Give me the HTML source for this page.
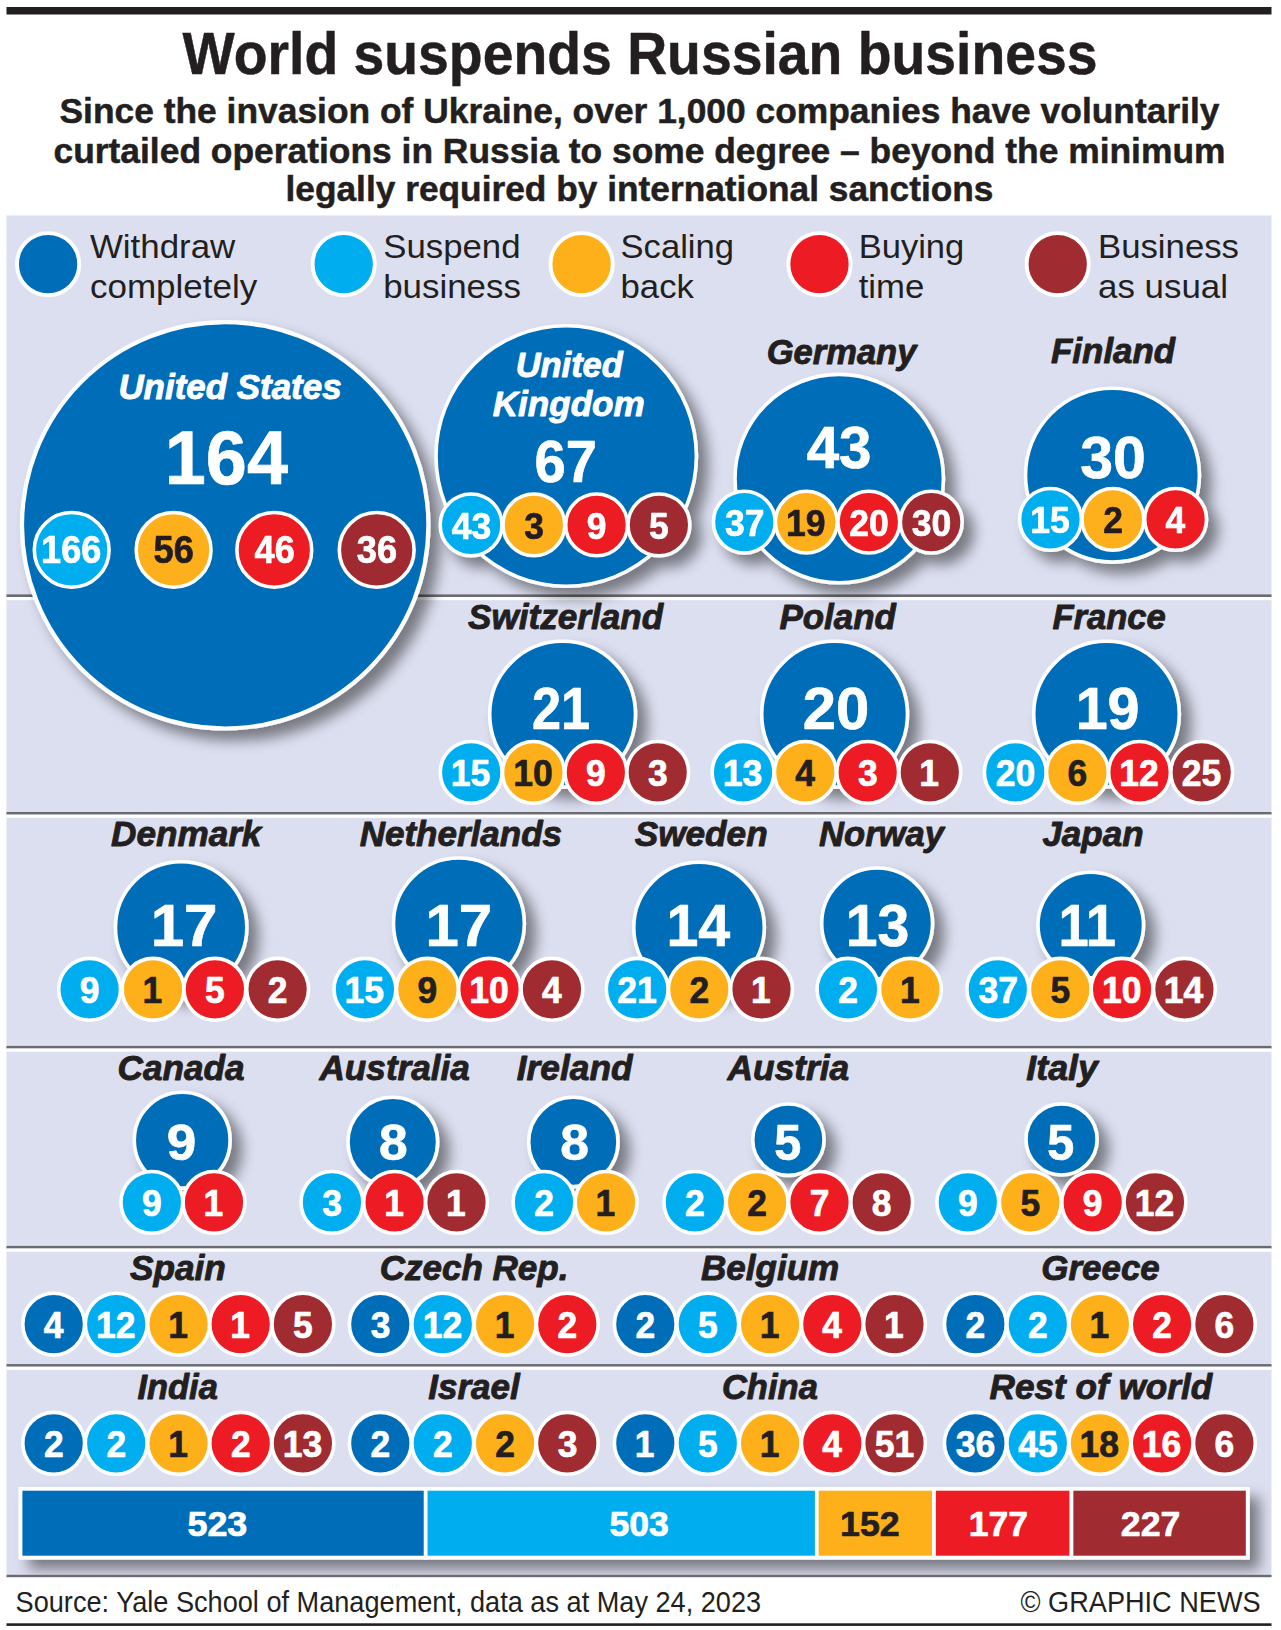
<!DOCTYPE html>
<html lang="en"><head><meta charset="utf-8"><title>World suspends Russian business</title>
<style>html,body{margin:0;padding:0;background:#fff}svg{display:block}text{font-family:"Liberation Sans",sans-serif}</style>
</head><body>
<svg width="1281" height="1630" viewBox="0 0 1281 1630">
<defs>
<filter id="shUS" filterUnits="userSpaceOnUse" x="0" y="300" width="520" height="500"><feDropShadow dx="10" dy="10" stdDeviation="7" flood-color="#000" flood-opacity="0.46"/></filter>
<filter id="shUK" filterUnits="userSpaceOnUse" x="400" y="300" width="360" height="340"><feDropShadow dx="10" dy="10" stdDeviation="7" flood-color="#000" flood-opacity="0.46"/></filter>
<filter id="sh" filterUnits="userSpaceOnUse" x="0" y="300" width="1281" height="1300"><feDropShadow dx="10" dy="10" stdDeviation="7" flood-color="#000" flood-opacity="0.46"/></filter>
</defs>
<rect width="1281" height="1630" fill="#fff"/>
<rect x="6.5" y="7" width="1265" height="7.5" fill="#231f20"/>
<rect x="6.5" y="215.5" width="1265" height="1360" fill="#dcdff0"/>
<rect x="6.5" y="1574.8" width="1265" height="2.4" fill="#6a6b70"/>
<rect x="6.5" y="1623.3" width="1265" height="2.6" fill="#231f20"/>
<text x="640" y="74.2" font-size="59.8" font-weight="bold" fill="#231f20" text-anchor="middle" stroke="#231f20" stroke-width="0.5" stroke-linejoin="round" textLength="915" lengthAdjust="spacingAndGlyphs">World suspends Russian business</text>
<text x="639.5" y="123.4" font-size="35.5" font-weight="bold" fill="#231f20" text-anchor="middle" stroke="#231f20" stroke-width="0.5" stroke-linejoin="round" textLength="1160" lengthAdjust="spacingAndGlyphs">Since the invasion of Ukraine, over 1,000 companies have voluntarily</text>
<text x="639.5" y="162.5" font-size="35.5" font-weight="bold" fill="#231f20" text-anchor="middle" stroke="#231f20" stroke-width="0.5" stroke-linejoin="round" textLength="1172" lengthAdjust="spacingAndGlyphs">curtailed operations in Russia to some degree – beyond the minimum</text>
<text x="639.5" y="201" font-size="35.5" font-weight="bold" fill="#231f20" text-anchor="middle" stroke="#231f20" stroke-width="0.5" stroke-linejoin="round" textLength="708" lengthAdjust="spacingAndGlyphs">legally required by international sanctions</text>
<circle cx="48.099999999999994" cy="264.2" r="31.1" fill="#006db8" stroke="#fff" stroke-width="3.9"/>
<text x="89.9" y="257.5" font-size="33.4" font-weight="normal" fill="#231f20" text-anchor="start" textLength="145.4" lengthAdjust="spacingAndGlyphs">Withdraw</text>
<text x="89.9" y="297.5" font-size="33.4" font-weight="normal" fill="#231f20" text-anchor="start" textLength="167.4" lengthAdjust="spacingAndGlyphs">completely</text>
<circle cx="343.7" cy="264.2" r="31.1" fill="#00aeef" stroke="#fff" stroke-width="3.9"/>
<text x="383.2" y="257.5" font-size="33.4" font-weight="normal" fill="#231f20" text-anchor="start" textLength="137.4" lengthAdjust="spacingAndGlyphs">Suspend</text>
<text x="383.2" y="297.5" font-size="33.4" font-weight="normal" fill="#231f20" text-anchor="start" textLength="137.7" lengthAdjust="spacingAndGlyphs">business</text>
<circle cx="581.5999999999999" cy="264.2" r="31.1" fill="#fdb01a" stroke="#fff" stroke-width="3.9"/>
<text x="620.5" y="257.5" font-size="33.4" font-weight="normal" fill="#231f20" text-anchor="start" textLength="113.5" lengthAdjust="spacingAndGlyphs">Scaling</text>
<text x="620.5" y="297.5" font-size="33.4" font-weight="normal" fill="#231f20" text-anchor="start" textLength="73.4" lengthAdjust="spacingAndGlyphs">back</text>
<circle cx="819.5" cy="264.2" r="31.1" fill="#ed1c24" stroke="#fff" stroke-width="3.9"/>
<text x="858.7" y="257.5" font-size="33.4" font-weight="normal" fill="#231f20" text-anchor="start" textLength="105.6" lengthAdjust="spacingAndGlyphs">Buying</text>
<text x="858.7" y="297.5" font-size="33.4" font-weight="normal" fill="#231f20" text-anchor="start" textLength="65.6" lengthAdjust="spacingAndGlyphs">time</text>
<circle cx="1057.7" cy="264.2" r="31.1" fill="#a02b31" stroke="#fff" stroke-width="3.9"/>
<text x="1098" y="257.5" font-size="33.4" font-weight="normal" fill="#231f20" text-anchor="start" textLength="141" lengthAdjust="spacingAndGlyphs">Business</text>
<text x="1098" y="297.5" font-size="33.4" font-weight="normal" fill="#231f20" text-anchor="start" textLength="130" lengthAdjust="spacingAndGlyphs">as usual</text>
<rect x="6.5" y="594.4" width="1265" height="2.6" fill="#6a6b70"/>
<rect x="6.5" y="597.0" width="1265" height="3.2" fill="#fff"/>
<rect x="6.5" y="812.0" width="1265" height="2.6" fill="#6a6b70"/>
<rect x="6.5" y="814.6" width="1265" height="3.2" fill="#fff"/>
<rect x="6.5" y="1045.9" width="1265" height="2.6" fill="#6a6b70"/>
<rect x="6.5" y="1048.5" width="1265" height="3.2" fill="#fff"/>
<rect x="6.5" y="1245.9" width="1265" height="2.6" fill="#6a6b70"/>
<rect x="6.5" y="1248.5" width="1265" height="3.2" fill="#fff"/>
<rect x="6.5" y="1364.1" width="1265" height="2.6" fill="#6a6b70"/>
<rect x="6.5" y="1366.7" width="1265" height="3.2" fill="#fff"/>
<g filter="url(#shUS)">
<circle cx="225.2" cy="525.3" r="203.2" fill="#006db8" stroke="#fff" stroke-width="4.2"/>
<circle cx="71.7" cy="549.9" r="37.4" fill="#00aeef" stroke="#fff" stroke-width="3.6"/>
<text x="71.2" y="563.1" font-size="38" font-weight="bold" fill="#fff" text-anchor="middle" stroke="#fff" stroke-width="0.7" stroke-linejoin="round" textLength="60.2" lengthAdjust="spacingAndGlyphs">166</text>
<circle cx="173.6" cy="549.9" r="37.4" fill="#fdb01a" stroke="#fff" stroke-width="3.6"/>
<text x="173.7" y="563.1" font-size="38" font-weight="bold" fill="#231f20" text-anchor="middle" stroke="#231f20" stroke-width="0.7" stroke-linejoin="round" textLength="40.2" lengthAdjust="spacingAndGlyphs">56</text>
<circle cx="274.3" cy="549.9" r="37.4" fill="#ed1c24" stroke="#fff" stroke-width="3.6"/>
<text x="274.7" y="563.1" font-size="38" font-weight="bold" fill="#fff" text-anchor="middle" stroke="#fff" stroke-width="0.7" stroke-linejoin="round" textLength="40.2" lengthAdjust="spacingAndGlyphs">46</text>
<circle cx="376.7" cy="549.9" r="37.4" fill="#a02b31" stroke="#fff" stroke-width="3.6"/>
<text x="376.9" y="563.1" font-size="38" font-weight="bold" fill="#fff" text-anchor="middle" stroke="#fff" stroke-width="0.7" stroke-linejoin="round" textLength="40.2" lengthAdjust="spacingAndGlyphs">36</text>
</g>
<text x="230" y="399.0" font-size="35.3" font-weight="bold" fill="#fff" text-anchor="middle" stroke="#fff" stroke-width="0.9" stroke-linejoin="round" font-style="italic" textLength="223.2" lengthAdjust="spacingAndGlyphs">United States</text>
<text x="226.4" y="483.5" font-size="76" font-weight="bold" fill="#fff" text-anchor="middle" stroke="#fff" stroke-width="0.7" stroke-linejoin="round" textLength="123.2" lengthAdjust="spacingAndGlyphs">164</text>
<g filter="url(#shUK)">
<circle cx="566.2" cy="456" r="130.2" fill="#006db8" stroke="#fff" stroke-width="3.6"/>
<circle cx="471.1" cy="524.9" r="30.9" fill="#00aeef" stroke="#fff" stroke-width="3.6"/>
<text x="471.5" y="538.5" font-size="36.2" font-weight="bold" fill="#fff" text-anchor="middle" stroke="#fff" stroke-width="0.7" stroke-linejoin="round" textLength="39.5" lengthAdjust="spacingAndGlyphs">43</text>
<circle cx="533.85" cy="524.9" r="30.9" fill="#fdb01a" stroke="#fff" stroke-width="3.6"/>
<text x="534.1" y="538.5" font-size="36.2" font-weight="bold" fill="#231f20" text-anchor="middle" stroke="#231f20" stroke-width="0.7" stroke-linejoin="round" textLength="19.7" lengthAdjust="spacingAndGlyphs">3</text>
<circle cx="596.6" cy="524.9" r="30.9" fill="#ed1c24" stroke="#fff" stroke-width="3.6"/>
<text x="596.6" y="538.5" font-size="36.2" font-weight="bold" fill="#fff" text-anchor="middle" stroke="#fff" stroke-width="0.7" stroke-linejoin="round" textLength="19.7" lengthAdjust="spacingAndGlyphs">9</text>
<circle cx="658.9" cy="524.9" r="30.9" fill="#a02b31" stroke="#fff" stroke-width="3.6"/>
<text x="658.9" y="538.5" font-size="36.2" font-weight="bold" fill="#fff" text-anchor="middle" stroke="#fff" stroke-width="0.7" stroke-linejoin="round" textLength="19.7" lengthAdjust="spacingAndGlyphs">5</text>
</g>
<text x="569.25" y="377.0" font-size="34.9" font-weight="bold" fill="#fff" text-anchor="middle" stroke="#fff" stroke-width="0.9" stroke-linejoin="round" font-style="italic" textLength="107.1" lengthAdjust="spacingAndGlyphs">United</text>
<text x="568.75" y="416.40000000000003" font-size="34.9" font-weight="bold" fill="#fff" text-anchor="middle" stroke="#fff" stroke-width="0.9" stroke-linejoin="round" font-style="italic" textLength="151.9" lengthAdjust="spacingAndGlyphs">Kingdom</text>
<text x="565.7" y="482.4" font-size="60" font-weight="bold" fill="#fff" text-anchor="middle" stroke="#fff" stroke-width="0.7" stroke-linejoin="round" textLength="62.4" lengthAdjust="spacingAndGlyphs">67</text>
<g filter="url(#sh)">
<circle cx="839.2" cy="478.6" r="104.2" fill="#006db8" stroke="#fff" stroke-width="3.6"/>
<circle cx="744.3" cy="522.1" r="30.9" fill="#00aeef" stroke="#fff" stroke-width="3.6"/>
<text x="744.7" y="535.7" font-size="36.2" font-weight="bold" fill="#fff" text-anchor="middle" stroke="#fff" stroke-width="0.7" stroke-linejoin="round" textLength="39.5" lengthAdjust="spacingAndGlyphs">37</text>
<circle cx="806.3" cy="522.1" r="30.9" fill="#fdb01a" stroke="#fff" stroke-width="3.6"/>
<text x="805.8" y="535.7" font-size="36.2" font-weight="bold" fill="#231f20" text-anchor="middle" stroke="#231f20" stroke-width="0.7" stroke-linejoin="round" textLength="39.5" lengthAdjust="spacingAndGlyphs">19</text>
<circle cx="868.85" cy="522.1" r="30.9" fill="#ed1c24" stroke="#fff" stroke-width="3.6"/>
<text x="869.0" y="535.7" font-size="36.2" font-weight="bold" fill="#fff" text-anchor="middle" stroke="#fff" stroke-width="0.7" stroke-linejoin="round" textLength="39.5" lengthAdjust="spacingAndGlyphs">20</text>
<circle cx="931.25" cy="522.1" r="30.9" fill="#a02b31" stroke="#fff" stroke-width="3.6"/>
<text x="931.6" y="535.7" font-size="36.2" font-weight="bold" fill="#fff" text-anchor="middle" stroke="#fff" stroke-width="0.7" stroke-linejoin="round" textLength="39.5" lengthAdjust="spacingAndGlyphs">30</text>
<circle cx="1112.45" cy="475.15" r="86.95" fill="#006db8" stroke="#fff" stroke-width="3.6"/>
<circle cx="1050.5" cy="519.4" r="30.9" fill="#00aeef" stroke="#fff" stroke-width="3.6"/>
<text x="1049.9" y="533.0" font-size="36.2" font-weight="bold" fill="#fff" text-anchor="middle" stroke="#fff" stroke-width="0.7" stroke-linejoin="round" textLength="39.5" lengthAdjust="spacingAndGlyphs">15</text>
<circle cx="1112.9" cy="519.4" r="30.9" fill="#fdb01a" stroke="#fff" stroke-width="3.6"/>
<text x="1113.0" y="533.0" font-size="36.2" font-weight="bold" fill="#231f20" text-anchor="middle" stroke="#231f20" stroke-width="0.7" stroke-linejoin="round" textLength="19.7" lengthAdjust="spacingAndGlyphs">2</text>
<circle cx="1175.6" cy="519.4" r="30.9" fill="#ed1c24" stroke="#fff" stroke-width="3.6"/>
<text x="1175.4" y="533.0" font-size="36.2" font-weight="bold" fill="#fff" text-anchor="middle" stroke="#fff" stroke-width="0.7" stroke-linejoin="round" textLength="19.7" lengthAdjust="spacingAndGlyphs">4</text>
</g>
<text x="841.55" y="363.6" font-size="34.9" font-weight="bold" fill="#231f20" text-anchor="middle" stroke="#231f20" stroke-width="0.9" stroke-linejoin="round" font-style="italic" textLength="149.7" lengthAdjust="spacingAndGlyphs">Germany</text>
<text x="839.1" y="467.7" font-size="60" font-weight="bold" fill="#fff" text-anchor="middle" stroke="#fff" stroke-width="0.7" stroke-linejoin="round" textLength="64.9" lengthAdjust="spacingAndGlyphs">43</text>
<text x="1113.1" y="363.40000000000003" font-size="34.9" font-weight="bold" fill="#231f20" text-anchor="middle" stroke="#231f20" stroke-width="0.9" stroke-linejoin="round" font-style="italic" textLength="124.2" lengthAdjust="spacingAndGlyphs">Finland</text>
<text x="1113.1" y="478.2" font-size="60" font-weight="bold" fill="#fff" text-anchor="middle" stroke="#fff" stroke-width="0.7" stroke-linejoin="round" textLength="65.6" lengthAdjust="spacingAndGlyphs">30</text>
<g filter="url(#sh)">
<circle cx="562.6" cy="714.2" r="72.9" fill="#006db8" stroke="#fff" stroke-width="3.6"/>
<circle cx="834.6" cy="714.2" r="72.9" fill="#006db8" stroke="#fff" stroke-width="3.6"/>
<circle cx="1106.5" cy="714.1" r="72.8" fill="#006db8" stroke="#fff" stroke-width="3.6"/>
</g>
<text x="565.6" y="628.5" font-size="34.9" font-weight="bold" fill="#231f20" text-anchor="middle" stroke="#231f20" stroke-width="0.9" stroke-linejoin="round" font-style="italic" textLength="195.1" lengthAdjust="spacingAndGlyphs">Switzerland</text>
<text x="561.0" y="729.4" font-size="60" font-weight="bold" fill="#fff" text-anchor="middle" stroke="#fff" stroke-width="0.7" stroke-linejoin="round" textLength="58.2" lengthAdjust="spacingAndGlyphs">21</text>
<circle cx="471.2" cy="772.4" r="30.9" fill="#00aeef" stroke="#fff" stroke-width="3.6"/>
<text x="470.6" y="786.0" font-size="36.2" font-weight="bold" fill="#fff" text-anchor="middle" stroke="#fff" stroke-width="0.7" stroke-linejoin="round" textLength="39.5" lengthAdjust="spacingAndGlyphs">15</text>
<circle cx="533.4" cy="772.4" r="30.9" fill="#fdb01a" stroke="#fff" stroke-width="3.6"/>
<text x="533.0" y="786.0" font-size="36.2" font-weight="bold" fill="#231f20" text-anchor="middle" stroke="#231f20" stroke-width="0.7" stroke-linejoin="round" textLength="39.5" lengthAdjust="spacingAndGlyphs">10</text>
<circle cx="595.85" cy="772.4" r="30.9" fill="#ed1c24" stroke="#fff" stroke-width="3.6"/>
<text x="595.9" y="786.0" font-size="36.2" font-weight="bold" fill="#fff" text-anchor="middle" stroke="#fff" stroke-width="0.7" stroke-linejoin="round" textLength="19.7" lengthAdjust="spacingAndGlyphs">9</text>
<circle cx="657.7" cy="772.4" r="30.9" fill="#a02b31" stroke="#fff" stroke-width="3.6"/>
<text x="657.9" y="786.0" font-size="36.2" font-weight="bold" fill="#fff" text-anchor="middle" stroke="#fff" stroke-width="0.7" stroke-linejoin="round" textLength="19.7" lengthAdjust="spacingAndGlyphs">3</text>
<text x="837.7" y="628.5" font-size="34.9" font-weight="bold" fill="#231f20" text-anchor="middle" stroke="#231f20" stroke-width="0.9" stroke-linejoin="round" font-style="italic" textLength="116.5" lengthAdjust="spacingAndGlyphs">Poland</text>
<text x="836.1" y="729.4" font-size="60" font-weight="bold" fill="#fff" text-anchor="middle" stroke="#fff" stroke-width="0.7" stroke-linejoin="round" textLength="66.5" lengthAdjust="spacingAndGlyphs">20</text>
<circle cx="743.05" cy="772.4" r="30.9" fill="#00aeef" stroke="#fff" stroke-width="3.6"/>
<text x="742.6" y="786.0" font-size="36.2" font-weight="bold" fill="#fff" text-anchor="middle" stroke="#fff" stroke-width="0.7" stroke-linejoin="round" textLength="39.5" lengthAdjust="spacingAndGlyphs">13</text>
<circle cx="805.3" cy="772.4" r="30.9" fill="#fdb01a" stroke="#fff" stroke-width="3.6"/>
<text x="805.1" y="786.0" font-size="36.2" font-weight="bold" fill="#231f20" text-anchor="middle" stroke="#231f20" stroke-width="0.7" stroke-linejoin="round" textLength="19.7" lengthAdjust="spacingAndGlyphs">4</text>
<circle cx="867.7" cy="772.4" r="30.9" fill="#ed1c24" stroke="#fff" stroke-width="3.6"/>
<text x="867.9" y="786.0" font-size="36.2" font-weight="bold" fill="#fff" text-anchor="middle" stroke="#fff" stroke-width="0.7" stroke-linejoin="round" textLength="19.7" lengthAdjust="spacingAndGlyphs">3</text>
<circle cx="929.8" cy="772.4" r="30.9" fill="#a02b31" stroke="#fff" stroke-width="3.6"/>
<text x="929.2" y="786.0" font-size="36.2" font-weight="bold" fill="#fff" text-anchor="middle" stroke="#fff" stroke-width="0.7" stroke-linejoin="round" textLength="19.7" lengthAdjust="spacingAndGlyphs">1</text>
<text x="1109.1" y="628.5" font-size="34.9" font-weight="bold" fill="#231f20" text-anchor="middle" stroke="#231f20" stroke-width="0.9" stroke-linejoin="round" font-style="italic" textLength="113.4" lengthAdjust="spacingAndGlyphs">France</text>
<text x="1107.6" y="729.4" font-size="60" font-weight="bold" fill="#fff" text-anchor="middle" stroke="#fff" stroke-width="0.7" stroke-linejoin="round" textLength="63.9" lengthAdjust="spacingAndGlyphs">19</text>
<circle cx="1015.3" cy="772.4" r="30.9" fill="#00aeef" stroke="#fff" stroke-width="3.6"/>
<text x="1015.4" y="786.0" font-size="36.2" font-weight="bold" fill="#fff" text-anchor="middle" stroke="#fff" stroke-width="0.7" stroke-linejoin="round" textLength="39.5" lengthAdjust="spacingAndGlyphs">20</text>
<circle cx="1077.4" cy="772.4" r="30.9" fill="#fdb01a" stroke="#fff" stroke-width="3.6"/>
<text x="1077.4" y="786.0" font-size="36.2" font-weight="bold" fill="#231f20" text-anchor="middle" stroke="#231f20" stroke-width="0.7" stroke-linejoin="round" textLength="19.7" lengthAdjust="spacingAndGlyphs">6</text>
<circle cx="1139.5" cy="772.4" r="30.9" fill="#ed1c24" stroke="#fff" stroke-width="3.6"/>
<text x="1139.1" y="786.0" font-size="36.2" font-weight="bold" fill="#fff" text-anchor="middle" stroke="#fff" stroke-width="0.7" stroke-linejoin="round" textLength="39.5" lengthAdjust="spacingAndGlyphs">12</text>
<circle cx="1201.7" cy="772.4" r="30.9" fill="#a02b31" stroke="#fff" stroke-width="3.6"/>
<text x="1201.6" y="786.0" font-size="36.2" font-weight="bold" fill="#fff" text-anchor="middle" stroke="#fff" stroke-width="0.7" stroke-linejoin="round" textLength="39.5" lengthAdjust="spacingAndGlyphs">25</text>
<g filter="url(#sh)">
<circle cx="181.15" cy="927.45" r="65.65" fill="#006db8" stroke="#fff" stroke-width="3.6"/>
<circle cx="458.9" cy="923.4" r="65.4" fill="#006db8" stroke="#fff" stroke-width="3.6"/>
<circle cx="699.05" cy="927.55" r="65.25" fill="#006db8" stroke="#fff" stroke-width="3.6"/>
<circle cx="877.1" cy="923.4" r="55.4" fill="#006db8" stroke="#fff" stroke-width="3.6"/>
<circle cx="1090.75" cy="925.05" r="52.75" fill="#006db8" stroke="#fff" stroke-width="3.6"/>
</g>
<text x="186.2" y="845.8" font-size="34.9" font-weight="bold" fill="#231f20" text-anchor="middle" stroke="#231f20" stroke-width="0.9" stroke-linejoin="round" font-style="italic" textLength="150.4" lengthAdjust="spacingAndGlyphs">Denmark</text>
<text x="184.1" y="945.9" font-size="59.8" font-weight="bold" fill="#fff" text-anchor="middle" stroke="#fff" stroke-width="0.7" stroke-linejoin="round" textLength="66.9" lengthAdjust="spacingAndGlyphs">17</text>
<circle cx="89.6" cy="989.3" r="30.9" fill="#00aeef" stroke="#fff" stroke-width="3.6"/>
<text x="89.6" y="1002.9" font-size="36.2" font-weight="bold" fill="#fff" text-anchor="middle" stroke="#fff" stroke-width="0.7" stroke-linejoin="round" textLength="19.7" lengthAdjust="spacingAndGlyphs">9</text>
<circle cx="153.05" cy="989.3" r="30.9" fill="#fdb01a" stroke="#fff" stroke-width="3.6"/>
<text x="152.4" y="1002.9" font-size="36.2" font-weight="bold" fill="#231f20" text-anchor="middle" stroke="#231f20" stroke-width="0.7" stroke-linejoin="round" textLength="19.7" lengthAdjust="spacingAndGlyphs">1</text>
<circle cx="214.9" cy="989.3" r="30.9" fill="#ed1c24" stroke="#fff" stroke-width="3.6"/>
<text x="214.9" y="1002.9" font-size="36.2" font-weight="bold" fill="#fff" text-anchor="middle" stroke="#fff" stroke-width="0.7" stroke-linejoin="round" textLength="19.7" lengthAdjust="spacingAndGlyphs">5</text>
<circle cx="277.6" cy="989.3" r="30.9" fill="#a02b31" stroke="#fff" stroke-width="3.6"/>
<text x="277.7" y="1002.9" font-size="36.2" font-weight="bold" fill="#fff" text-anchor="middle" stroke="#fff" stroke-width="0.7" stroke-linejoin="round" textLength="19.7" lengthAdjust="spacingAndGlyphs">2</text>
<text x="460.9" y="845.8" font-size="34.9" font-weight="bold" fill="#231f20" text-anchor="middle" stroke="#231f20" stroke-width="0.9" stroke-linejoin="round" font-style="italic" textLength="202.4" lengthAdjust="spacingAndGlyphs">Netherlands</text>
<text x="458.7" y="945.9" font-size="59.8" font-weight="bold" fill="#fff" text-anchor="middle" stroke="#fff" stroke-width="0.7" stroke-linejoin="round" textLength="66.6" lengthAdjust="spacingAndGlyphs">17</text>
<circle cx="364.95" cy="989.3" r="30.9" fill="#00aeef" stroke="#fff" stroke-width="3.6"/>
<text x="364.3" y="1002.9" font-size="36.2" font-weight="bold" fill="#fff" text-anchor="middle" stroke="#fff" stroke-width="0.7" stroke-linejoin="round" textLength="39.5" lengthAdjust="spacingAndGlyphs">15</text>
<circle cx="427.4" cy="989.3" r="30.9" fill="#fdb01a" stroke="#fff" stroke-width="3.6"/>
<text x="427.4" y="1002.9" font-size="36.2" font-weight="bold" fill="#231f20" text-anchor="middle" stroke="#231f20" stroke-width="0.7" stroke-linejoin="round" textLength="19.7" lengthAdjust="spacingAndGlyphs">9</text>
<circle cx="489.5" cy="989.3" r="30.9" fill="#ed1c24" stroke="#fff" stroke-width="3.6"/>
<text x="489.1" y="1002.9" font-size="36.2" font-weight="bold" fill="#fff" text-anchor="middle" stroke="#fff" stroke-width="0.7" stroke-linejoin="round" textLength="39.5" lengthAdjust="spacingAndGlyphs">10</text>
<circle cx="551.95" cy="989.3" r="30.9" fill="#a02b31" stroke="#fff" stroke-width="3.6"/>
<text x="551.8" y="1002.9" font-size="36.2" font-weight="bold" fill="#fff" text-anchor="middle" stroke="#fff" stroke-width="0.7" stroke-linejoin="round" textLength="19.7" lengthAdjust="spacingAndGlyphs">4</text>
<text x="701.2" y="845.8" font-size="34.9" font-weight="bold" fill="#231f20" text-anchor="middle" stroke="#231f20" stroke-width="0.9" stroke-linejoin="round" font-style="italic" textLength="133" lengthAdjust="spacingAndGlyphs">Sweden</text>
<text x="698.3" y="945.9" font-size="59.8" font-weight="bold" fill="#fff" text-anchor="middle" stroke="#fff" stroke-width="0.7" stroke-linejoin="round" textLength="63.8" lengthAdjust="spacingAndGlyphs">14</text>
<circle cx="637.2" cy="989.3" r="30.9" fill="#00aeef" stroke="#fff" stroke-width="3.6"/>
<text x="637.1" y="1002.9" font-size="36.2" font-weight="bold" fill="#fff" text-anchor="middle" stroke="#fff" stroke-width="0.7" stroke-linejoin="round" textLength="39.5" lengthAdjust="spacingAndGlyphs">21</text>
<circle cx="699.3" cy="989.3" r="30.9" fill="#fdb01a" stroke="#fff" stroke-width="3.6"/>
<text x="699.4" y="1002.9" font-size="36.2" font-weight="bold" fill="#231f20" text-anchor="middle" stroke="#231f20" stroke-width="0.7" stroke-linejoin="round" textLength="19.7" lengthAdjust="spacingAndGlyphs">2</text>
<circle cx="761.5" cy="989.3" r="30.9" fill="#a02b31" stroke="#fff" stroke-width="3.6"/>
<text x="760.9" y="1002.9" font-size="36.2" font-weight="bold" fill="#fff" text-anchor="middle" stroke="#fff" stroke-width="0.7" stroke-linejoin="round" textLength="19.7" lengthAdjust="spacingAndGlyphs">1</text>
<text x="881.5" y="845.8" font-size="34.9" font-weight="bold" fill="#231f20" text-anchor="middle" stroke="#231f20" stroke-width="0.9" stroke-linejoin="round" font-style="italic" textLength="124.8" lengthAdjust="spacingAndGlyphs">Norway</text>
<text x="877.5" y="945.9" font-size="59.8" font-weight="bold" fill="#fff" text-anchor="middle" stroke="#fff" stroke-width="0.7" stroke-linejoin="round" textLength="63.6" lengthAdjust="spacingAndGlyphs">13</text>
<circle cx="847.95" cy="989.3" r="30.9" fill="#00aeef" stroke="#fff" stroke-width="3.6"/>
<text x="848.0" y="1002.9" font-size="36.2" font-weight="bold" fill="#fff" text-anchor="middle" stroke="#fff" stroke-width="0.7" stroke-linejoin="round" textLength="19.7" lengthAdjust="spacingAndGlyphs">2</text>
<circle cx="910.4" cy="989.3" r="30.9" fill="#fdb01a" stroke="#fff" stroke-width="3.6"/>
<text x="909.8" y="1002.9" font-size="36.2" font-weight="bold" fill="#231f20" text-anchor="middle" stroke="#231f20" stroke-width="0.7" stroke-linejoin="round" textLength="19.7" lengthAdjust="spacingAndGlyphs">1</text>
<text x="1093" y="845.8" font-size="34.9" font-weight="bold" fill="#231f20" text-anchor="middle" stroke="#231f20" stroke-width="0.9" stroke-linejoin="round" font-style="italic" textLength="101.2" lengthAdjust="spacingAndGlyphs">Japan</text>
<text x="1087.2" y="945.9" font-size="59.8" font-weight="bold" fill="#fff" text-anchor="middle" stroke="#fff" stroke-width="0.7" stroke-linejoin="round" textLength="57.4" lengthAdjust="spacingAndGlyphs">11</text>
<circle cx="997.8" cy="989.3" r="30.9" fill="#00aeef" stroke="#fff" stroke-width="3.6"/>
<text x="998.2" y="1002.9" font-size="36.2" font-weight="bold" fill="#fff" text-anchor="middle" stroke="#fff" stroke-width="0.7" stroke-linejoin="round" textLength="39.5" lengthAdjust="spacingAndGlyphs">37</text>
<circle cx="1060.3" cy="989.3" r="30.9" fill="#fdb01a" stroke="#fff" stroke-width="3.6"/>
<text x="1060.3" y="1002.9" font-size="36.2" font-weight="bold" fill="#231f20" text-anchor="middle" stroke="#231f20" stroke-width="0.7" stroke-linejoin="round" textLength="19.7" lengthAdjust="spacingAndGlyphs">5</text>
<circle cx="1122.1" cy="989.3" r="30.9" fill="#ed1c24" stroke="#fff" stroke-width="3.6"/>
<text x="1121.7" y="1002.9" font-size="36.2" font-weight="bold" fill="#fff" text-anchor="middle" stroke="#fff" stroke-width="0.7" stroke-linejoin="round" textLength="39.5" lengthAdjust="spacingAndGlyphs">10</text>
<circle cx="1184.4" cy="989.3" r="30.9" fill="#a02b31" stroke="#fff" stroke-width="3.6"/>
<text x="1183.4" y="1002.9" font-size="36.2" font-weight="bold" fill="#fff" text-anchor="middle" stroke="#fff" stroke-width="0.7" stroke-linejoin="round" textLength="39.5" lengthAdjust="spacingAndGlyphs">14</text>
<g filter="url(#sh)">
<circle cx="182.2" cy="1140.2" r="47.9" fill="#006db8" stroke="#fff" stroke-width="3.6"/>
<circle cx="392.8" cy="1142.1" r="44.8" fill="#006db8" stroke="#fff" stroke-width="3.6"/>
<circle cx="573.35" cy="1141.95" r="44.65" fill="#006db8" stroke="#fff" stroke-width="3.6"/>
<circle cx="788.4" cy="1139.7" r="35.65" fill="#006db8" stroke="#fff" stroke-width="3.6"/>
<circle cx="1061.55" cy="1139.4" r="35.55" fill="#006db8" stroke="#fff" stroke-width="3.6"/>
</g>
<text x="181" y="1079.6" font-size="34.9" font-weight="bold" fill="#231f20" text-anchor="middle" stroke="#231f20" stroke-width="0.9" stroke-linejoin="round" font-style="italic" textLength="127" lengthAdjust="spacingAndGlyphs">Canada</text>
<text x="181.6" y="1159.7" font-size="50.8" font-weight="bold" fill="#fff" text-anchor="middle" stroke="#fff" stroke-width="0.7" stroke-linejoin="round" textLength="29.5" lengthAdjust="spacingAndGlyphs">9</text>
<circle cx="151.85" cy="1202.4" r="30.9" fill="#00aeef" stroke="#fff" stroke-width="3.6"/>
<text x="151.9" y="1216.0" font-size="36.2" font-weight="bold" fill="#fff" text-anchor="middle" stroke="#fff" stroke-width="0.7" stroke-linejoin="round" textLength="19.7" lengthAdjust="spacingAndGlyphs">9</text>
<circle cx="214" cy="1202.4" r="30.9" fill="#ed1c24" stroke="#fff" stroke-width="3.6"/>
<text x="213.4" y="1216.0" font-size="36.2" font-weight="bold" fill="#fff" text-anchor="middle" stroke="#fff" stroke-width="0.7" stroke-linejoin="round" textLength="19.7" lengthAdjust="spacingAndGlyphs">1</text>
<text x="394.7" y="1079.6" font-size="34.9" font-weight="bold" fill="#231f20" text-anchor="middle" stroke="#231f20" stroke-width="0.9" stroke-linejoin="round" font-style="italic" textLength="150.5" lengthAdjust="spacingAndGlyphs">Australia</text>
<text x="393.4" y="1159.7" font-size="50.8" font-weight="bold" fill="#fff" text-anchor="middle" stroke="#fff" stroke-width="0.7" stroke-linejoin="round" textLength="28.7" lengthAdjust="spacingAndGlyphs">8</text>
<circle cx="331.95" cy="1202.4" r="30.9" fill="#00aeef" stroke="#fff" stroke-width="3.6"/>
<text x="332.2" y="1216.0" font-size="36.2" font-weight="bold" fill="#fff" text-anchor="middle" stroke="#fff" stroke-width="0.7" stroke-linejoin="round" textLength="19.7" lengthAdjust="spacingAndGlyphs">3</text>
<circle cx="394.6" cy="1202.4" r="30.9" fill="#ed1c24" stroke="#fff" stroke-width="3.6"/>
<text x="394.0" y="1216.0" font-size="36.2" font-weight="bold" fill="#fff" text-anchor="middle" stroke="#fff" stroke-width="0.7" stroke-linejoin="round" textLength="19.7" lengthAdjust="spacingAndGlyphs">1</text>
<circle cx="456.5" cy="1202.4" r="30.9" fill="#a02b31" stroke="#fff" stroke-width="3.6"/>
<text x="455.9" y="1216.0" font-size="36.2" font-weight="bold" fill="#fff" text-anchor="middle" stroke="#fff" stroke-width="0.7" stroke-linejoin="round" textLength="19.7" lengthAdjust="spacingAndGlyphs">1</text>
<text x="574.7" y="1079.6" font-size="34.9" font-weight="bold" fill="#231f20" text-anchor="middle" stroke="#231f20" stroke-width="0.9" stroke-linejoin="round" font-style="italic" textLength="115.9" lengthAdjust="spacingAndGlyphs">Ireland</text>
<text x="574.5" y="1159.7" font-size="50.8" font-weight="bold" fill="#fff" text-anchor="middle" stroke="#fff" stroke-width="0.7" stroke-linejoin="round" textLength="28.7" lengthAdjust="spacingAndGlyphs">8</text>
<circle cx="544" cy="1202.4" r="30.9" fill="#00aeef" stroke="#fff" stroke-width="3.6"/>
<text x="544.1" y="1216.0" font-size="36.2" font-weight="bold" fill="#fff" text-anchor="middle" stroke="#fff" stroke-width="0.7" stroke-linejoin="round" textLength="19.7" lengthAdjust="spacingAndGlyphs">2</text>
<circle cx="606.05" cy="1202.4" r="30.9" fill="#fdb01a" stroke="#fff" stroke-width="3.6"/>
<text x="605.4" y="1216.0" font-size="36.2" font-weight="bold" fill="#231f20" text-anchor="middle" stroke="#231f20" stroke-width="0.7" stroke-linejoin="round" textLength="19.7" lengthAdjust="spacingAndGlyphs">1</text>
<text x="788.4" y="1079.6" font-size="34.9" font-weight="bold" fill="#231f20" text-anchor="middle" stroke="#231f20" stroke-width="0.9" stroke-linejoin="round" font-style="italic" textLength="121.6" lengthAdjust="spacingAndGlyphs">Austria</text>
<text x="787.7" y="1159.7" font-size="50.8" font-weight="bold" fill="#fff" text-anchor="middle" stroke="#fff" stroke-width="0.7" stroke-linejoin="round" textLength="27.0" lengthAdjust="spacingAndGlyphs">5</text>
<circle cx="694.85" cy="1202.4" r="30.9" fill="#00aeef" stroke="#fff" stroke-width="3.6"/>
<text x="694.9" y="1216.0" font-size="36.2" font-weight="bold" fill="#fff" text-anchor="middle" stroke="#fff" stroke-width="0.7" stroke-linejoin="round" textLength="19.7" lengthAdjust="spacingAndGlyphs">2</text>
<circle cx="757.15" cy="1202.4" r="30.9" fill="#fdb01a" stroke="#fff" stroke-width="3.6"/>
<text x="757.2" y="1216.0" font-size="36.2" font-weight="bold" fill="#231f20" text-anchor="middle" stroke="#231f20" stroke-width="0.7" stroke-linejoin="round" textLength="19.7" lengthAdjust="spacingAndGlyphs">2</text>
<circle cx="819.5" cy="1202.4" r="30.9" fill="#ed1c24" stroke="#fff" stroke-width="3.6"/>
<text x="819.5" y="1216.0" font-size="36.2" font-weight="bold" fill="#fff" text-anchor="middle" stroke="#fff" stroke-width="0.7" stroke-linejoin="round" textLength="19.7" lengthAdjust="spacingAndGlyphs">7</text>
<circle cx="881.7" cy="1202.4" r="30.9" fill="#a02b31" stroke="#fff" stroke-width="3.6"/>
<text x="881.7" y="1216.0" font-size="36.2" font-weight="bold" fill="#fff" text-anchor="middle" stroke="#fff" stroke-width="0.7" stroke-linejoin="round" textLength="19.7" lengthAdjust="spacingAndGlyphs">8</text>
<text x="1062.1" y="1079.6" font-size="34.9" font-weight="bold" fill="#231f20" text-anchor="middle" stroke="#231f20" stroke-width="0.9" stroke-linejoin="round" font-style="italic" textLength="71.6" lengthAdjust="spacingAndGlyphs">Italy</text>
<text x="1060.7" y="1159.7" font-size="50.8" font-weight="bold" fill="#fff" text-anchor="middle" stroke="#fff" stroke-width="0.7" stroke-linejoin="round" textLength="27.0" lengthAdjust="spacingAndGlyphs">5</text>
<circle cx="967.8" cy="1202.4" r="30.9" fill="#00aeef" stroke="#fff" stroke-width="3.6"/>
<text x="967.8" y="1216.0" font-size="36.2" font-weight="bold" fill="#fff" text-anchor="middle" stroke="#fff" stroke-width="0.7" stroke-linejoin="round" textLength="19.7" lengthAdjust="spacingAndGlyphs">9</text>
<circle cx="1030.3" cy="1202.4" r="30.9" fill="#fdb01a" stroke="#fff" stroke-width="3.6"/>
<text x="1030.3" y="1216.0" font-size="36.2" font-weight="bold" fill="#231f20" text-anchor="middle" stroke="#231f20" stroke-width="0.7" stroke-linejoin="round" textLength="19.7" lengthAdjust="spacingAndGlyphs">5</text>
<circle cx="1092.7" cy="1202.4" r="30.9" fill="#ed1c24" stroke="#fff" stroke-width="3.6"/>
<text x="1092.7" y="1216.0" font-size="36.2" font-weight="bold" fill="#fff" text-anchor="middle" stroke="#fff" stroke-width="0.7" stroke-linejoin="round" textLength="19.7" lengthAdjust="spacingAndGlyphs">9</text>
<circle cx="1154.95" cy="1202.4" r="30.9" fill="#a02b31" stroke="#fff" stroke-width="3.6"/>
<text x="1154.5" y="1216.0" font-size="36.2" font-weight="bold" fill="#fff" text-anchor="middle" stroke="#fff" stroke-width="0.7" stroke-linejoin="round" textLength="39.5" lengthAdjust="spacingAndGlyphs">12</text>
<text x="177.9" y="1279.8" font-size="34.9" font-weight="bold" fill="#231f20" text-anchor="middle" stroke="#231f20" stroke-width="0.9" stroke-linejoin="round" font-style="italic" textLength="95.9" lengthAdjust="spacingAndGlyphs">Spain</text>
<circle cx="53.7" cy="1324.2" r="30.9" fill="#006db8" stroke="#fff" stroke-width="3.6"/>
<text x="53.5" y="1337.8" font-size="36.2" font-weight="bold" fill="#fff" text-anchor="middle" stroke="#fff" stroke-width="0.7" stroke-linejoin="round" textLength="19.7" lengthAdjust="spacingAndGlyphs">4</text>
<circle cx="116.2" cy="1324.2" r="30.9" fill="#00aeef" stroke="#fff" stroke-width="3.6"/>
<text x="115.8" y="1337.8" font-size="36.2" font-weight="bold" fill="#fff" text-anchor="middle" stroke="#fff" stroke-width="0.7" stroke-linejoin="round" textLength="39.5" lengthAdjust="spacingAndGlyphs">12</text>
<circle cx="178.6" cy="1324.2" r="30.9" fill="#fdb01a" stroke="#fff" stroke-width="3.6"/>
<text x="178.0" y="1337.8" font-size="36.2" font-weight="bold" fill="#231f20" text-anchor="middle" stroke="#231f20" stroke-width="0.7" stroke-linejoin="round" textLength="19.7" lengthAdjust="spacingAndGlyphs">1</text>
<circle cx="240.7" cy="1324.2" r="30.9" fill="#ed1c24" stroke="#fff" stroke-width="3.6"/>
<text x="240.1" y="1337.8" font-size="36.2" font-weight="bold" fill="#fff" text-anchor="middle" stroke="#fff" stroke-width="0.7" stroke-linejoin="round" textLength="19.7" lengthAdjust="spacingAndGlyphs">1</text>
<circle cx="302.9" cy="1324.2" r="30.9" fill="#a02b31" stroke="#fff" stroke-width="3.6"/>
<text x="302.9" y="1337.8" font-size="36.2" font-weight="bold" fill="#fff" text-anchor="middle" stroke="#fff" stroke-width="0.7" stroke-linejoin="round" textLength="19.7" lengthAdjust="spacingAndGlyphs">5</text>
<text x="474.1" y="1279.8" font-size="34.9" font-weight="bold" fill="#231f20" text-anchor="middle" stroke="#231f20" stroke-width="0.9" stroke-linejoin="round" font-style="italic" textLength="188.8" lengthAdjust="spacingAndGlyphs">Czech Rep.</text>
<circle cx="380.3" cy="1324.2" r="30.9" fill="#006db8" stroke="#fff" stroke-width="3.6"/>
<text x="380.5" y="1337.8" font-size="36.2" font-weight="bold" fill="#fff" text-anchor="middle" stroke="#fff" stroke-width="0.7" stroke-linejoin="round" textLength="19.7" lengthAdjust="spacingAndGlyphs">3</text>
<circle cx="442.8" cy="1324.2" r="30.9" fill="#00aeef" stroke="#fff" stroke-width="3.6"/>
<text x="442.4" y="1337.8" font-size="36.2" font-weight="bold" fill="#fff" text-anchor="middle" stroke="#fff" stroke-width="0.7" stroke-linejoin="round" textLength="39.5" lengthAdjust="spacingAndGlyphs">12</text>
<circle cx="505.1" cy="1324.2" r="30.9" fill="#fdb01a" stroke="#fff" stroke-width="3.6"/>
<text x="504.5" y="1337.8" font-size="36.2" font-weight="bold" fill="#231f20" text-anchor="middle" stroke="#231f20" stroke-width="0.7" stroke-linejoin="round" textLength="19.7" lengthAdjust="spacingAndGlyphs">1</text>
<circle cx="567.3" cy="1324.2" r="30.9" fill="#ed1c24" stroke="#fff" stroke-width="3.6"/>
<text x="567.4" y="1337.8" font-size="36.2" font-weight="bold" fill="#fff" text-anchor="middle" stroke="#fff" stroke-width="0.7" stroke-linejoin="round" textLength="19.7" lengthAdjust="spacingAndGlyphs">2</text>
<text x="770.1" y="1279.8" font-size="34.9" font-weight="bold" fill="#231f20" text-anchor="middle" stroke="#231f20" stroke-width="0.9" stroke-linejoin="round" font-style="italic" textLength="138.2" lengthAdjust="spacingAndGlyphs">Belgium</text>
<circle cx="645.3" cy="1324.2" r="30.9" fill="#006db8" stroke="#fff" stroke-width="3.6"/>
<text x="645.4" y="1337.8" font-size="36.2" font-weight="bold" fill="#fff" text-anchor="middle" stroke="#fff" stroke-width="0.7" stroke-linejoin="round" textLength="19.7" lengthAdjust="spacingAndGlyphs">2</text>
<circle cx="707.8" cy="1324.2" r="30.9" fill="#00aeef" stroke="#fff" stroke-width="3.6"/>
<text x="707.8" y="1337.8" font-size="36.2" font-weight="bold" fill="#fff" text-anchor="middle" stroke="#fff" stroke-width="0.7" stroke-linejoin="round" textLength="19.7" lengthAdjust="spacingAndGlyphs">5</text>
<circle cx="770.1" cy="1324.2" r="30.9" fill="#fdb01a" stroke="#fff" stroke-width="3.6"/>
<text x="769.5" y="1337.8" font-size="36.2" font-weight="bold" fill="#231f20" text-anchor="middle" stroke="#231f20" stroke-width="0.7" stroke-linejoin="round" textLength="19.7" lengthAdjust="spacingAndGlyphs">1</text>
<circle cx="832.3" cy="1324.2" r="30.9" fill="#ed1c24" stroke="#fff" stroke-width="3.6"/>
<text x="832.1" y="1337.8" font-size="36.2" font-weight="bold" fill="#fff" text-anchor="middle" stroke="#fff" stroke-width="0.7" stroke-linejoin="round" textLength="19.7" lengthAdjust="spacingAndGlyphs">4</text>
<circle cx="894.5" cy="1324.2" r="30.9" fill="#a02b31" stroke="#fff" stroke-width="3.6"/>
<text x="893.9" y="1337.8" font-size="36.2" font-weight="bold" fill="#fff" text-anchor="middle" stroke="#fff" stroke-width="0.7" stroke-linejoin="round" textLength="19.7" lengthAdjust="spacingAndGlyphs">1</text>
<text x="1100.5" y="1279.8" font-size="34.9" font-weight="bold" fill="#231f20" text-anchor="middle" stroke="#231f20" stroke-width="0.9" stroke-linejoin="round" font-style="italic" textLength="118.6" lengthAdjust="spacingAndGlyphs">Greece</text>
<circle cx="975.35" cy="1324.2" r="30.9" fill="#006db8" stroke="#fff" stroke-width="3.6"/>
<text x="975.4" y="1337.8" font-size="36.2" font-weight="bold" fill="#fff" text-anchor="middle" stroke="#fff" stroke-width="0.7" stroke-linejoin="round" textLength="19.7" lengthAdjust="spacingAndGlyphs">2</text>
<circle cx="1037.8" cy="1324.2" r="30.9" fill="#00aeef" stroke="#fff" stroke-width="3.6"/>
<text x="1037.9" y="1337.8" font-size="36.2" font-weight="bold" fill="#fff" text-anchor="middle" stroke="#fff" stroke-width="0.7" stroke-linejoin="round" textLength="19.7" lengthAdjust="spacingAndGlyphs">2</text>
<circle cx="1099.9" cy="1324.2" r="30.9" fill="#fdb01a" stroke="#fff" stroke-width="3.6"/>
<text x="1099.3" y="1337.8" font-size="36.2" font-weight="bold" fill="#231f20" text-anchor="middle" stroke="#231f20" stroke-width="0.7" stroke-linejoin="round" textLength="19.7" lengthAdjust="spacingAndGlyphs">1</text>
<circle cx="1162.1" cy="1324.2" r="30.9" fill="#ed1c24" stroke="#fff" stroke-width="3.6"/>
<text x="1162.2" y="1337.8" font-size="36.2" font-weight="bold" fill="#fff" text-anchor="middle" stroke="#fff" stroke-width="0.7" stroke-linejoin="round" textLength="19.7" lengthAdjust="spacingAndGlyphs">2</text>
<circle cx="1224.4" cy="1324.2" r="30.9" fill="#a02b31" stroke="#fff" stroke-width="3.6"/>
<text x="1224.4" y="1337.8" font-size="36.2" font-weight="bold" fill="#fff" text-anchor="middle" stroke="#fff" stroke-width="0.7" stroke-linejoin="round" textLength="19.7" lengthAdjust="spacingAndGlyphs">6</text>
<text x="177.6" y="1398.7" font-size="34.9" font-weight="bold" fill="#231f20" text-anchor="middle" stroke="#231f20" stroke-width="0.9" stroke-linejoin="round" font-style="italic" textLength="80.4" lengthAdjust="spacingAndGlyphs">India</text>
<circle cx="53.7" cy="1443.3" r="30.9" fill="#006db8" stroke="#fff" stroke-width="3.6"/>
<text x="53.8" y="1456.8999999999999" font-size="36.2" font-weight="bold" fill="#fff" text-anchor="middle" stroke="#fff" stroke-width="0.7" stroke-linejoin="round" textLength="19.7" lengthAdjust="spacingAndGlyphs">2</text>
<circle cx="116.2" cy="1443.3" r="30.9" fill="#00aeef" stroke="#fff" stroke-width="3.6"/>
<text x="116.3" y="1456.8999999999999" font-size="36.2" font-weight="bold" fill="#fff" text-anchor="middle" stroke="#fff" stroke-width="0.7" stroke-linejoin="round" textLength="19.7" lengthAdjust="spacingAndGlyphs">2</text>
<circle cx="178.6" cy="1443.3" r="30.9" fill="#fdb01a" stroke="#fff" stroke-width="3.6"/>
<text x="178.0" y="1456.8999999999999" font-size="36.2" font-weight="bold" fill="#231f20" text-anchor="middle" stroke="#231f20" stroke-width="0.7" stroke-linejoin="round" textLength="19.7" lengthAdjust="spacingAndGlyphs">1</text>
<circle cx="240.7" cy="1443.3" r="30.9" fill="#ed1c24" stroke="#fff" stroke-width="3.6"/>
<text x="240.8" y="1456.8999999999999" font-size="36.2" font-weight="bold" fill="#fff" text-anchor="middle" stroke="#fff" stroke-width="0.7" stroke-linejoin="round" textLength="19.7" lengthAdjust="spacingAndGlyphs">2</text>
<circle cx="302.9" cy="1443.3" r="30.9" fill="#a02b31" stroke="#fff" stroke-width="3.6"/>
<text x="302.4" y="1456.8999999999999" font-size="36.2" font-weight="bold" fill="#fff" text-anchor="middle" stroke="#fff" stroke-width="0.7" stroke-linejoin="round" textLength="39.5" lengthAdjust="spacingAndGlyphs">13</text>
<text x="474" y="1398.7" font-size="34.9" font-weight="bold" fill="#231f20" text-anchor="middle" stroke="#231f20" stroke-width="0.9" stroke-linejoin="round" font-style="italic" textLength="91.7" lengthAdjust="spacingAndGlyphs">Israel</text>
<circle cx="380.3" cy="1443.3" r="30.9" fill="#006db8" stroke="#fff" stroke-width="3.6"/>
<text x="380.4" y="1456.8999999999999" font-size="36.2" font-weight="bold" fill="#fff" text-anchor="middle" stroke="#fff" stroke-width="0.7" stroke-linejoin="round" textLength="19.7" lengthAdjust="spacingAndGlyphs">2</text>
<circle cx="442.8" cy="1443.3" r="30.9" fill="#00aeef" stroke="#fff" stroke-width="3.6"/>
<text x="442.9" y="1456.8999999999999" font-size="36.2" font-weight="bold" fill="#fff" text-anchor="middle" stroke="#fff" stroke-width="0.7" stroke-linejoin="round" textLength="19.7" lengthAdjust="spacingAndGlyphs">2</text>
<circle cx="505.1" cy="1443.3" r="30.9" fill="#fdb01a" stroke="#fff" stroke-width="3.6"/>
<text x="505.2" y="1456.8999999999999" font-size="36.2" font-weight="bold" fill="#231f20" text-anchor="middle" stroke="#231f20" stroke-width="0.7" stroke-linejoin="round" textLength="19.7" lengthAdjust="spacingAndGlyphs">2</text>
<circle cx="567.3" cy="1443.3" r="30.9" fill="#a02b31" stroke="#fff" stroke-width="3.6"/>
<text x="567.5" y="1456.8999999999999" font-size="36.2" font-weight="bold" fill="#fff" text-anchor="middle" stroke="#fff" stroke-width="0.7" stroke-linejoin="round" textLength="19.7" lengthAdjust="spacingAndGlyphs">3</text>
<text x="769.9" y="1398.7" font-size="34.9" font-weight="bold" fill="#231f20" text-anchor="middle" stroke="#231f20" stroke-width="0.9" stroke-linejoin="round" font-style="italic" textLength="95.9" lengthAdjust="spacingAndGlyphs">China</text>
<circle cx="645.3" cy="1443.3" r="30.9" fill="#006db8" stroke="#fff" stroke-width="3.6"/>
<text x="644.7" y="1456.8999999999999" font-size="36.2" font-weight="bold" fill="#fff" text-anchor="middle" stroke="#fff" stroke-width="0.7" stroke-linejoin="round" textLength="19.7" lengthAdjust="spacingAndGlyphs">1</text>
<circle cx="707.8" cy="1443.3" r="30.9" fill="#00aeef" stroke="#fff" stroke-width="3.6"/>
<text x="707.8" y="1456.8999999999999" font-size="36.2" font-weight="bold" fill="#fff" text-anchor="middle" stroke="#fff" stroke-width="0.7" stroke-linejoin="round" textLength="19.7" lengthAdjust="spacingAndGlyphs">5</text>
<circle cx="770.1" cy="1443.3" r="30.9" fill="#fdb01a" stroke="#fff" stroke-width="3.6"/>
<text x="769.5" y="1456.8999999999999" font-size="36.2" font-weight="bold" fill="#231f20" text-anchor="middle" stroke="#231f20" stroke-width="0.7" stroke-linejoin="round" textLength="19.7" lengthAdjust="spacingAndGlyphs">1</text>
<circle cx="832.3" cy="1443.3" r="30.9" fill="#ed1c24" stroke="#fff" stroke-width="3.6"/>
<text x="832.1" y="1456.8999999999999" font-size="36.2" font-weight="bold" fill="#fff" text-anchor="middle" stroke="#fff" stroke-width="0.7" stroke-linejoin="round" textLength="19.7" lengthAdjust="spacingAndGlyphs">4</text>
<circle cx="894.5" cy="1443.3" r="30.9" fill="#a02b31" stroke="#fff" stroke-width="3.6"/>
<text x="894.5" y="1456.8999999999999" font-size="36.2" font-weight="bold" fill="#fff" text-anchor="middle" stroke="#fff" stroke-width="0.7" stroke-linejoin="round" textLength="39.5" lengthAdjust="spacingAndGlyphs">51</text>
<text x="1100.9" y="1398.7" font-size="34.9" font-weight="bold" fill="#231f20" text-anchor="middle" stroke="#231f20" stroke-width="0.9" stroke-linejoin="round" font-style="italic" textLength="222.8" lengthAdjust="spacingAndGlyphs">Rest of world</text>
<circle cx="975.35" cy="1443.3" r="30.9" fill="#006db8" stroke="#fff" stroke-width="3.6"/>
<text x="975.6" y="1456.8999999999999" font-size="36.2" font-weight="bold" fill="#fff" text-anchor="middle" stroke="#fff" stroke-width="0.7" stroke-linejoin="round" textLength="39.5" lengthAdjust="spacingAndGlyphs">36</text>
<circle cx="1037.8" cy="1443.3" r="30.9" fill="#00aeef" stroke="#fff" stroke-width="3.6"/>
<text x="1038.0" y="1456.8999999999999" font-size="36.2" font-weight="bold" fill="#fff" text-anchor="middle" stroke="#fff" stroke-width="0.7" stroke-linejoin="round" textLength="39.5" lengthAdjust="spacingAndGlyphs">45</text>
<circle cx="1099.9" cy="1443.3" r="30.9" fill="#fdb01a" stroke="#fff" stroke-width="3.6"/>
<text x="1099.3" y="1456.8999999999999" font-size="36.2" font-weight="bold" fill="#231f20" text-anchor="middle" stroke="#231f20" stroke-width="0.7" stroke-linejoin="round" textLength="39.5" lengthAdjust="spacingAndGlyphs">18</text>
<circle cx="1162.1" cy="1443.3" r="30.9" fill="#ed1c24" stroke="#fff" stroke-width="3.6"/>
<text x="1161.6" y="1456.8999999999999" font-size="36.2" font-weight="bold" fill="#fff" text-anchor="middle" stroke="#fff" stroke-width="0.7" stroke-linejoin="round" textLength="39.5" lengthAdjust="spacingAndGlyphs">16</text>
<circle cx="1224.4" cy="1443.3" r="30.9" fill="#a02b31" stroke="#fff" stroke-width="3.6"/>
<text x="1224.4" y="1456.8999999999999" font-size="36.2" font-weight="bold" fill="#fff" text-anchor="middle" stroke="#fff" stroke-width="0.7" stroke-linejoin="round" textLength="19.7" lengthAdjust="spacingAndGlyphs">6</text>
<clipPath id="pc"><rect x="6.5" y="215.5" width="1265" height="1359.3"/></clipPath>
<g clip-path="url(#pc)">
<g filter="url(#sh)">
<rect x="20.55" y="1488.85" width="1227.1" height="68.7" fill="#fff" stroke="#fff" stroke-width="3.7"/>
</g>
</g>
<rect x="20.55" y="1488.85" width="405.15" height="68.7" fill="#006db8" stroke="#fff" stroke-width="3.7"/>
<rect x="425.7" y="1488.85" width="391.1" height="68.7" fill="#00aeef" stroke="#fff" stroke-width="3.7"/>
<rect x="816.8" y="1488.85" width="117.2" height="68.7" fill="#fdb01a" stroke="#fff" stroke-width="3.7"/>
<rect x="934" y="1488.85" width="137.5" height="68.7" fill="#ed1c24" stroke="#fff" stroke-width="3.7"/>
<rect x="1071.5" y="1488.85" width="176.15" height="68.7" fill="#a02b31" stroke="#fff" stroke-width="3.7"/>
<text x="217.4" y="1536.2" font-size="35.7" font-weight="bold" fill="#fff" text-anchor="middle" stroke="#fff" stroke-width="0.7" stroke-linejoin="round" textLength="59.9" lengthAdjust="spacingAndGlyphs">523</text>
<text x="639.1" y="1536.2" font-size="35.7" font-weight="bold" fill="#fff" text-anchor="middle" stroke="#fff" stroke-width="0.7" stroke-linejoin="round" textLength="59.3" lengthAdjust="spacingAndGlyphs">503</text>
<text x="869.9" y="1536.2" font-size="35.7" font-weight="bold" fill="#231f20" text-anchor="middle" stroke="#231f20" stroke-width="0.7" stroke-linejoin="round" textLength="59.6" lengthAdjust="spacingAndGlyphs">152</text>
<text x="998.4" y="1536.2" font-size="35.7" font-weight="bold" fill="#fff" text-anchor="middle" stroke="#fff" stroke-width="0.7" stroke-linejoin="round" textLength="59.3" lengthAdjust="spacingAndGlyphs">177</text>
<text x="1150.6" y="1536.2" font-size="35.7" font-weight="bold" fill="#fff" text-anchor="middle" stroke="#fff" stroke-width="0.7" stroke-linejoin="round" textLength="59.5" lengthAdjust="spacingAndGlyphs">227</text>
<text x="15.6" y="1611.5" font-size="30" font-weight="normal" fill="#231f20" text-anchor="start" textLength="745.5" lengthAdjust="spacingAndGlyphs">Source: Yale School of Management, data as at May 24, 2023</text>
<text x="1260.6" y="1611.5" font-size="30" font-weight="normal" fill="#231f20" text-anchor="end" textLength="240" lengthAdjust="spacingAndGlyphs">© GRAPHIC NEWS</text>
</svg></body></html>
